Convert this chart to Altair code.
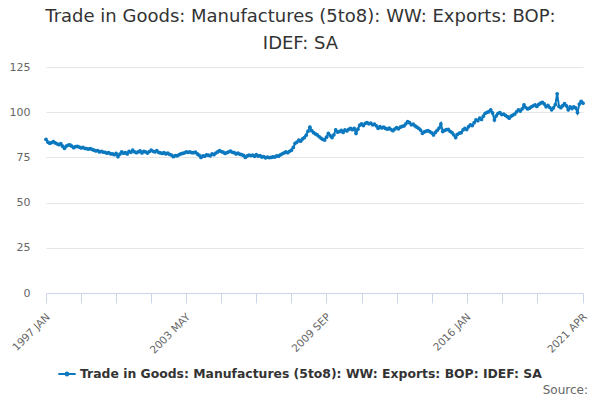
import altair as alt
import pandas as pd

series_name = "Trade in Goods: Manufactures (5to8): WW: Exports: BOP: IDEF: SA"

# monthly values, 1997 JAN .. 2021 APR (one row per year)
exports = [
    85.0, 83.5, 82.8, 83.2, 83.7, 83.0, 82.5, 82.0, 82.6, 81.2, 80.0, 81.3,  # 1997
    81.8, 81.9, 81.2, 80.4, 80.9, 81.1, 80.7, 80.2, 80.5, 80.0, 79.8, 79.6,  # 1998
    79.9, 79.4, 79.0, 78.6, 78.8, 78.0, 78.4, 77.9, 77.8, 77.3, 77.6, 77.0,  # 1999
    76.9, 76.5, 77.2, 75.4, 76.8, 78.0, 77.3, 77.6, 76.9, 78.3, 77.8, 79.0,  # 2000
    78.1, 77.6, 78.0, 78.6, 77.5, 78.3, 78.0, 77.4, 78.2, 79.0, 78.4, 78.0,  # 2001
    78.7, 77.8, 77.5, 77.2, 77.6, 76.9, 77.3, 76.7, 76.3, 75.4, 76.0, 75.9,  # 2002
    76.4, 76.9, 77.2, 77.5, 78.0, 77.8, 78.1, 77.6, 77.6, 77.9, 76.9, 76.2,  # 2003
    75.0, 75.8, 75.7, 76.4, 76.2, 75.9, 76.9, 76.5, 77.4, 78.0, 78.7, 78.2,  # 2004
    77.9, 77.2, 77.6, 78.1, 78.5, 77.8, 77.6, 76.9, 77.3, 76.8, 76.5, 76.1,  # 2005
    75.0, 75.8, 76.3, 76.0, 76.3, 75.6, 76.5, 75.7, 76.0, 75.2, 75.5, 74.8,  # 2006
    75.1, 74.9, 75.0, 75.3, 75.2, 75.9, 75.7, 76.4, 77.0, 77.5, 78.0, 77.6,  # 2007
    78.4, 79.0, 80.5, 82.8, 83.5, 84.6, 84.0, 85.2, 86.0, 87.3, 89.5, 91.7,  # 2008
    89.8, 88.7, 88.0, 87.4, 86.5, 85.7, 85.0, 84.6, 86.2, 88.3, 87.0, 86.0,  # 2009
    87.5, 90.2, 89.0, 89.3, 89.9, 88.8, 90.2, 89.6, 90.5, 91.1, 90.3, 91.0,  # 2010
    88.3, 90.6, 92.8, 93.5, 92.6, 93.8, 94.3, 93.6, 94.0, 93.0, 93.4, 92.5,  # 2011
    91.1, 92.0, 91.3, 91.8, 91.0, 90.6, 91.2, 90.4, 89.8, 90.7, 91.5, 90.8,  # 2012
    91.7, 92.2, 92.4, 93.6, 94.8, 94.2, 93.0, 93.4, 92.4, 91.7, 91.0, 90.1,  # 2013
    88.3, 89.1, 89.5, 89.8, 89.2, 88.6, 87.4, 88.8, 90.0, 91.2, 93.5, 89.3,  # 2014
    89.9, 90.3, 90.5, 89.4, 88.7, 87.5, 86.0, 87.8, 88.4, 88.7, 90.2, 91.1,  # 2015
    90.4, 92.0, 93.0, 92.6, 94.2, 95.7, 95.3, 96.7, 96.0, 97.8, 99.4, 99.9,  # 2016
    100.3, 101.3, 99.6, 95.7, 98.0, 99.4, 99.8, 98.7, 99.0, 98.2, 97.5, 96.7,  # 2017
    97.8, 98.4, 99.0, 100.2, 101.3, 100.6, 101.8, 104.0, 102.6, 101.8, 102.2, 103.0,  # 2018
    103.5, 104.0, 103.2, 104.3, 105.0, 105.5, 104.6, 103.0, 103.8, 102.6, 101.3, 102.4,  # 2019
    104.2, 110.2, 103.2, 102.5, 103.6, 104.7, 103.5, 101.3, 103.0, 102.0, 102.9, 102.4,  # 2020
    99.8, 104.5, 106.0, 105.0,  # 2021
]

tick_months = [0, 19, 38, 57, 76, 95, 114, 133, 152, 171, 190, 209, 228, 247, 266, 291]
label_months = [0, 76, 152, 228, 291]
label_texts = ["1997 JAN", "2003 MAY", "2009 SEP", "2016 JAN", "2021 APR"]
y_ticks = [0, 25, 50, 75, 100, 125]

df = pd.DataFrame({
    "month": list(range(len(exports))),
    "value": exports,
    "series": series_name,
})

label_expr = " : ".join(
    f"datum.value == {m} ? '{t}'" for m, t in zip(label_months, label_texts)
) + " : ''"

blue = "#0b78bf"
font = "DejaVu Sans"

# legend symbol: short line with a dot on it
legend_symbol = (
    "M-1,-0.12H1V0.12H-1Z "
    "M0.28,0A0.28,0.28 0 1,1 -0.28,0A0.28,0.28 0 1,1 0.28,0Z"
)

line = (
    alt.Chart(df)
    .mark_line(strokeWidth=2, point=alt.OverlayMarkDef(size=14, filled=True, color=blue))
    .encode(
        x=alt.X(
            "month:Q",
            scale=alt.Scale(domain=[0, len(exports) - 1], nice=False, zero=False),
            axis=alt.Axis(
                title=None,
                values=tick_months,
                labelExpr=label_expr,
                labelAngle=-45,
                labelAlign="right",
                labelBaseline="middle",
                labelPadding=12,
                labelOffset=2,
                labelFontSize=10.5,
                labelColor="#666666",
                labelFont=font,
                tickSize=10,
                tickColor="#ccd6eb",
                domainColor="#ccd6eb",
                grid=False,
                labelOverlap=False,
            ),
        ),
        y=alt.Y(
            "value:Q",
            scale=alt.Scale(domain=[0, 125], nice=False),
            axis=alt.Axis(
                title=None,
                values=y_ticks,
                labelFontSize=11,
                labelColor="#666666",
                labelFont=font,
                labelPadding=16,
                ticks=False,
                domain=False,
                gridColor="#e6e6e6",
            ),
        ),
        color=alt.Color(
            "series:N",
            scale=alt.Scale(range=[blue]),
            legend=alt.Legend(
                title=None,
                orient="none",
                legendX=12,
                legendY=298,
                symbolType=legend_symbol,
                symbolSize=300,
                symbolStrokeWidth=0,
                symbolFillColor=blue,
                labelFontSize=12.4,
                labelFontWeight="bold",
                labelColor="#333333",
                labelFont=font,
                labelLimit=600,
            ),
        ),
    )
)

source = (
    alt.Chart(pd.DataFrame({"t": ["Source:"]}))
    .mark_text(align="right", baseline="middle", fontSize=12, color="#666666", font=font)
    .encode(x=alt.value(542), y=alt.value(323), text="t:N")
)

chart = (
    alt.layer(line, source)
    .properties(
        width=537,
        height=226,
        autosize=alt.AutoSizeParams(type="none"),
        padding={"left": 38, "top": 59, "right": 9, "bottom": 105},
        title=alt.TitleParams(
            text=["Trade in Goods: Manufactures (5to8): WW: Exports: BOP:", "IDEF: SA"],
            fontSize=18,
            fontWeight="normal",
            font=font,
            color="#333333",
            anchor="middle",
            lineHeight=27,
            offset=8,
            dx=-14,
        ),
    )
    .configure_view(stroke=None)
)

chart.save("out.html", embed_options={"renderer": "svg", "actions": False})
